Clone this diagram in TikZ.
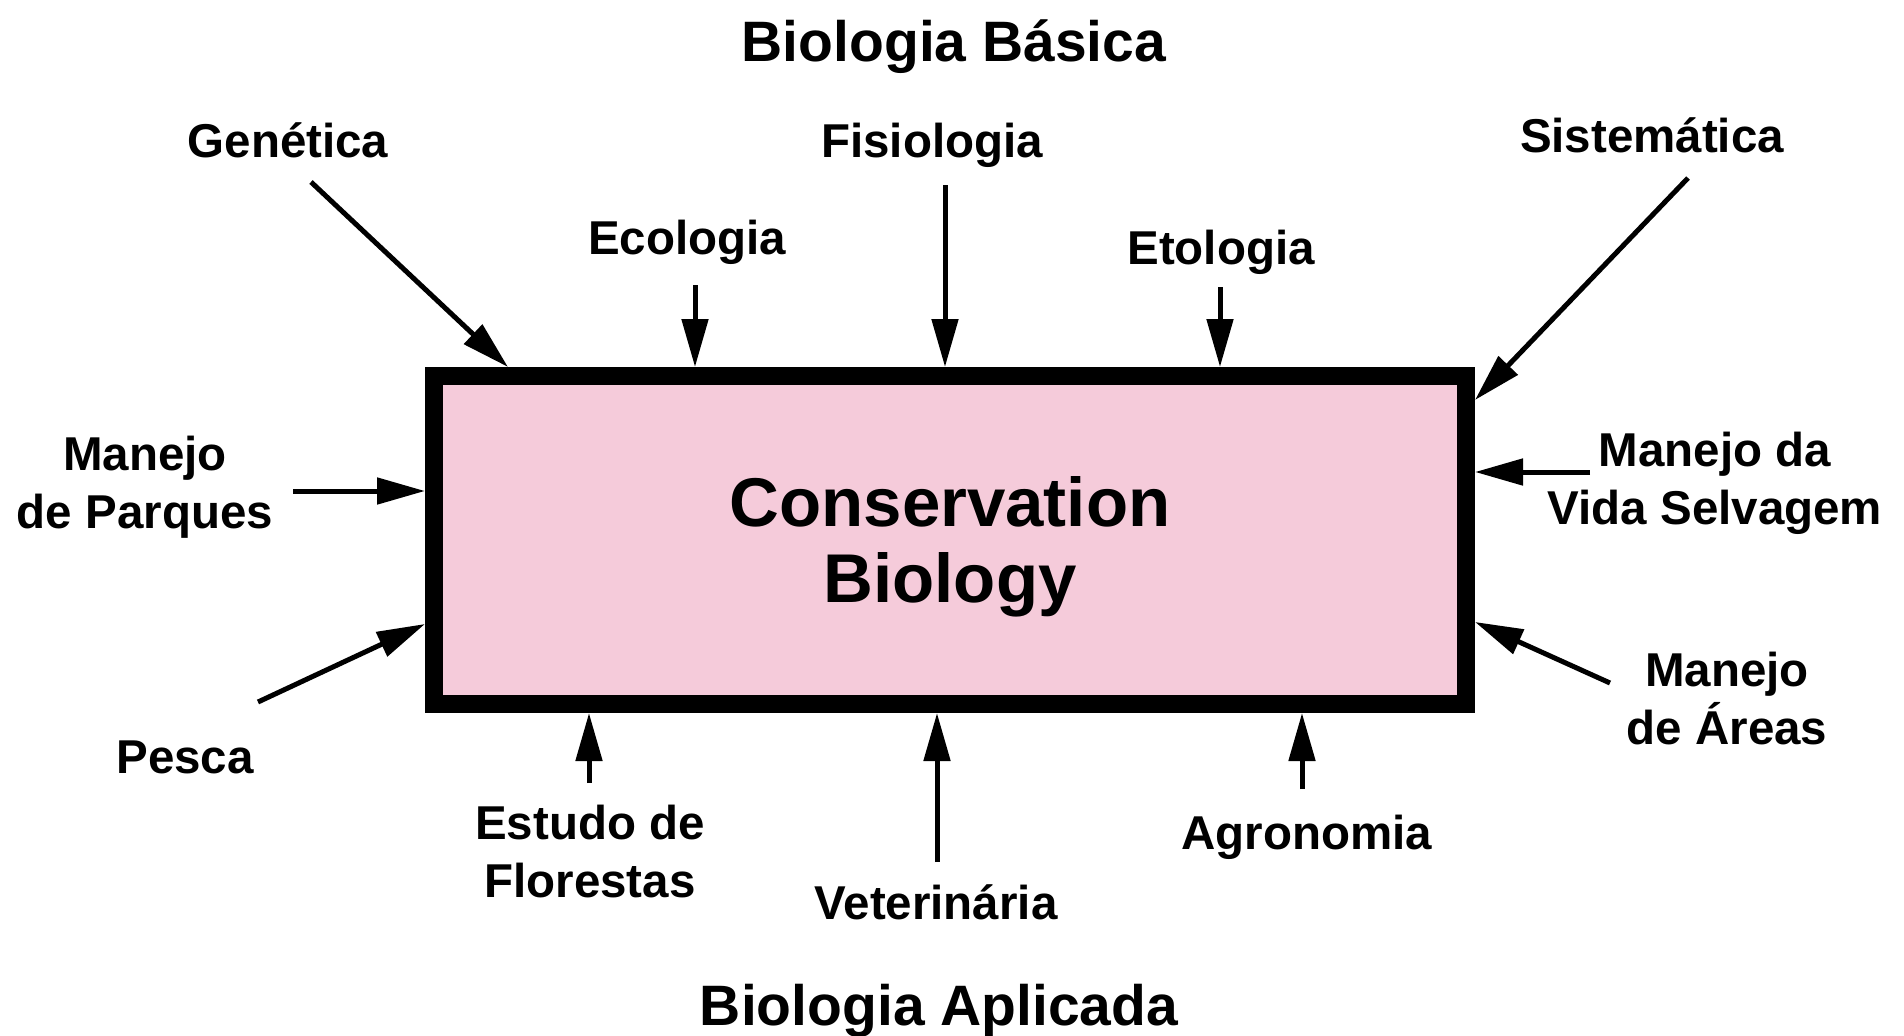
\documentclass[tikz,border=0pt]{standalone}
\usepackage{fontspec}
\setmainfont{Liberation Sans}
\usetikzlibrary{arrows.meta,calc}
\definecolor{cbpink}{RGB}{245,203,218}
\begin{document}
\begin{tikzpicture}[x=1pt,y=-1pt,
  lbl/.style={inner sep=0pt, font=\fontsize{47.5}{58}\selectfont\bfseries, text height=34pt, text depth=0pt},
  lbl2/.style={lbl, align=center, text height=92pt},
  head/.style={inner sep=0pt, font=\fontsize{57}{68}\selectfont\bfseries, text height=40.8pt, text depth=0pt},
  arr/.style={line width=5pt, -{Triangle[length=48pt,width=26pt]}},
  cbox/.style={draw=black, fill=cbpink, line width=18pt, minimum width=1032pt, minimum height=328pt,
    inner sep=0pt, align=center, font=\fontsize{69}{76}\selectfont\bfseries, text height=125.4pt, text depth=0pt}
]
\useasboundingbox[fill=white] (0,0) rectangle (1904,1036);

\node[cbox] (cb) at (950,540) {Conservation\\Biology};

% headings
\node[head] (bb) at (954,41) {Biologia Básica};
\node[head] (ba) at (939,1005) {Biologia Aplicada};

% top labels
\node[lbl] (gen) at (288,140) {Genética};
\node[lbl] (eco) at (687,237) {Ecologia};
\node[lbl] (fis) at (932,140) {Fisiologia};
\node[lbl] (eto) at (1221,247) {Etologia};
\node[lbl] (sis) at (1652,135) {Sistemática};
% side labels
\node[lbl2] (mp) at (145,482) {Manejo\\de Parques};
\node[lbl] (pes) at (185,756) {Pesca};
\node[lbl2] (mv) at (1715,478.5) {Manejo da\\Vida Selvagem};
\node[lbl2] (ma) at (1727,698.5) {Manejo\\de Áreas};
% bottom labels
\node[lbl2] (ef) at (590,851) {Estudo de\\Florestas};
\node[lbl] (vet) at (936,902) {Veterinária};
\node[lbl] (agr) at (1307,832) {Agronomia};

% arrow tails
\coordinate (tGen) at (311,182);
\coordinate (tEco) at (695,285);
\coordinate (tFis) at (945,185);
\coordinate (tEto) at (1220,287);
\coordinate (tSis) at (1688,178);
\coordinate (tMP) at (293,491);
\coordinate (tPes) at (258,702);
\coordinate (tMV) at (1590,472);
\coordinate (tMA) at (1610,683);
\coordinate (tEF) at (589,783);
\coordinate (tVet) at (937,862);
\coordinate (tAgr) at (1302,789);

\draw[arr] (tGen) -- ($(cb.north west)+(83,0)$);
\draw[arr] (tEco) -- (tEco |- cb.north);
\draw[arr] (tFis) -- (tFis |- cb.north);
\draw[arr] (tEto) -- (tEto |- cb.north);
\draw[arr] (tSis) -- ($(cb.north east)+(0,33)$);
\draw[arr] (tMP) -- (tMP -| cb.west);
\draw[arr] (tPes) -- ($(cb.west)+(0,84)$);
\draw[arr] (tMV) -- (tMV -| cb.east);
\draw[arr] (tMA) -- ($(cb.east)+(0,82)$);
\draw[arr] (tEF) -- (tEF |- cb.south);
\draw[arr] (tVet) -- (tVet |- cb.south);
\draw[arr] (tAgr) -- (tAgr |- cb.south);
\end{tikzpicture}
\end{document}
